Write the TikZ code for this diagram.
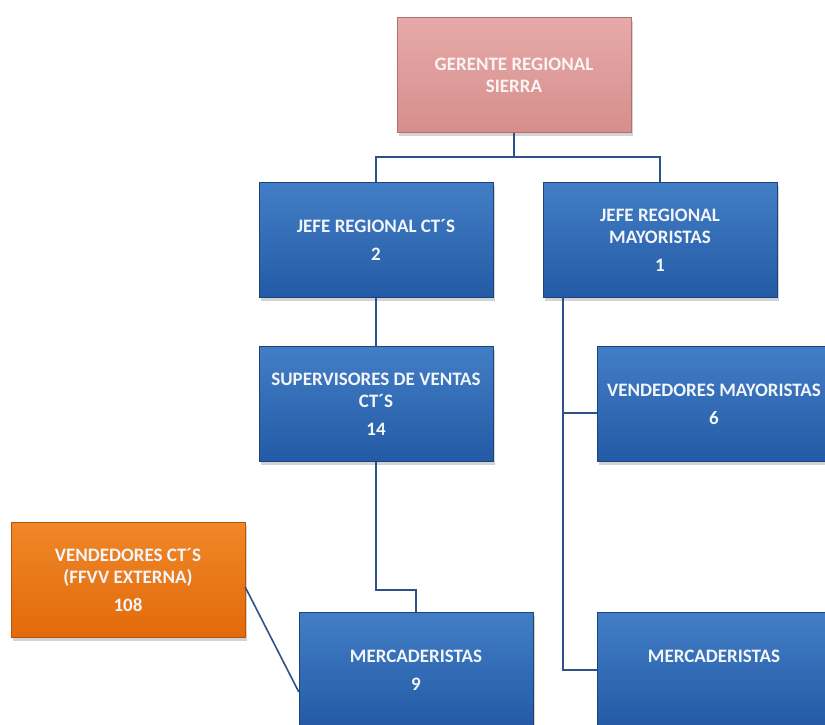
\documentclass[tikz,border=0pt]{standalone}
\usepackage{fontspec}
\setmainfont{Carlito}
\definecolor{orgblue}{RGB}{36,90,165}
\definecolor{orgbluetop}{RGB}{66,126,198}
\definecolor{orgpink}{RGB}{214,142,140}
\definecolor{orgpinktop}{RGB}{230,170,168}
\definecolor{orgorange}{RGB}{226,106,10}
\definecolor{orgorangetop}{RGB}{240,135,40}
\definecolor{orglink}{RGB}{48,80,138}
\usetikzlibrary{positioning, shadows}

\begin{document}
\begin{tikzpicture}[x=1pt, y=-1pt,
  unit/.style={minimum width=234pt, minimum height=115pt, inner sep=1pt,
               draw=orgblue!75!black, top color=orgbluetop, bottom color=orgblue,
               text=white!94!orgblue, font=\bfseries\fontsize{19}{22}\selectfont, align=center,
               drop shadow={opacity=0.35, shadow xshift=1.5pt, shadow yshift=-3pt}},
  boss/.style={unit, draw=orgpink!80!black, top color=orgpinktop, bottom color=orgpink,
               text=white!90!orgpink},
  extern/.style={unit, draw=orgorange!80!black, top color=orgorangetop, bottom color=orgorange},
  link/.style={draw=orglink, line width=1.6pt}
]
  \useasboundingbox (0,0) rectangle (825,724);

  \node[boss] (gerente) at (514,75) {GERENTE REGIONAL\\SIERRA};
  \node[unit] (jefect) at (376,240) {JEFE REGIONAL CT´S\\[6pt]2};
  \node[unit] (jefemay) at (660,240) {JEFE REGIONAL\\MAYORISTAS\\[6pt]1};
  \node[unit] (superv) at (376,404) {SUPERVISORES DE VENTAS\\CT´S\\[6pt]14};
  \node[unit] (vendmay) at (714,404) {VENDEDORES MAYORISTAS\\[6pt]6};
  \node[extern] (vendct) at (128,580) {VENDEDORES CT´S\\(FFVV EXTERNA)\\[6pt]108};
  \node[unit] (merc1) at (416,670) {MERCADERISTAS\\[6pt]9};
  \node[unit] (merc2) at (714,670) {MERCADERISTAS\\[6pt]\phantom{0}};

  \draw[link] (gerente.south) -- ++(0,24) -| (jefect.north);
  \draw[link] (gerente.south) -- ++(0,24) -| (jefemay.north);
  \draw[link] (jefect.south) -- (superv.north);
  \draw[link] (superv.south) -- ++(0,128) -| (merc1.north);
  \draw[link] ([xshift=-97pt]jefemay.south) |- ([yshift=-9pt]vendmay.west);
  \draw[link] ([xshift=-97pt]jefemay.south) |- (merc2.west);
  \draw[link] ([yshift=-7pt]vendct.east) -- ([yshift=-22pt]merc1.west);
\end{tikzpicture}
\end{document}
